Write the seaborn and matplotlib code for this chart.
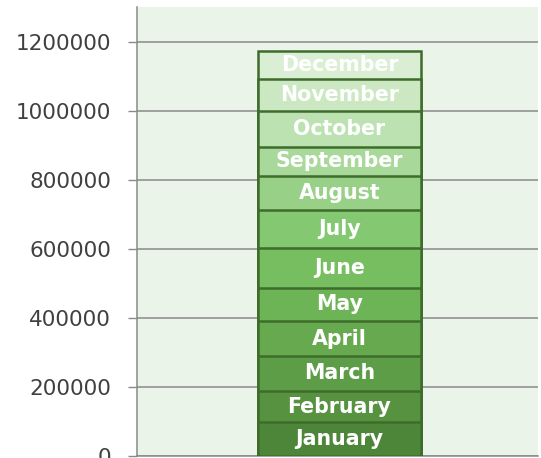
import matplotlib
matplotlib.use("Agg")
import matplotlib.pyplot as plt
import seaborn as sns
import numpy as np

months = ["January", "February", "March", "April", "May", "June",
          "July", "August", "September", "October", "November", "December"]
values = [97000, 91500, 101000, 101000, 96500, 115500,
          111000, 96500, 86000, 104000, 91500, 80500]
colors = ["#4e8639", "#56923f", "#5e9d47", "#66a94f", "#6db456", "#77be60",
          "#84c872", "#98d087", "#a9d89b", "#bde2b1", "#cbe8c2", "#d9eed3"]
yticks = [0, 200000, 400000, 600000, 800000, 1000000, 1200000]

sns.set_theme(style="white")
plt.rcParams['font.family'] = ['DejaVu Sans']

fig = plt.figure(figsize=(5.41, 4.58), dpi=100)
ax = fig.add_axes([137/541, 2/458, (538-137)/541, (456-7)/458])
ax.set_facecolor("#ebf4e8")

cum = np.cumsum(values)
for i in reversed(range(len(months))):
    sns.barplot(x=[0], y=[cum[i]], color=colors[i], saturation=1, width=0.405,
                edgecolor="#3d6c2b", linewidth=1.8, ax=ax, native_scale=True, zorder=3)

for i, m in enumerate(months):
    ax.text(0, cum[i] - values[i] / 2, m, ha="center", va="center",
            color="white", fontsize=14.8, fontweight="bold", zorder=5)

ax.set_xlim(-0.505, 0.495)
ax.set_ylim(0, 1300000)
ax.set_yticks(yticks)
ax.set_yticklabels([str(v) for v in yticks])
ax.set_xticks([])
ax.set_xlabel("")
ax.set_ylabel("")
ax.yaxis.grid(True, color="#8a8a8a", linewidth=1.1)
ax.set_axisbelow(True)
ax.tick_params(axis="y", left=True, length=6.7, width=1.0, color="#8a8a8a",
               labelsize=15.5, labelcolor="#404040", pad=12)
for s in ["top", "right"]:
    ax.spines[s].set_visible(False)
for s in ["left", "bottom"]:
    ax.spines[s].set_color("#8a8a8a")
    ax.spines[s].set_linewidth(1.1)

fig.savefig("out.png", dpi=100)
